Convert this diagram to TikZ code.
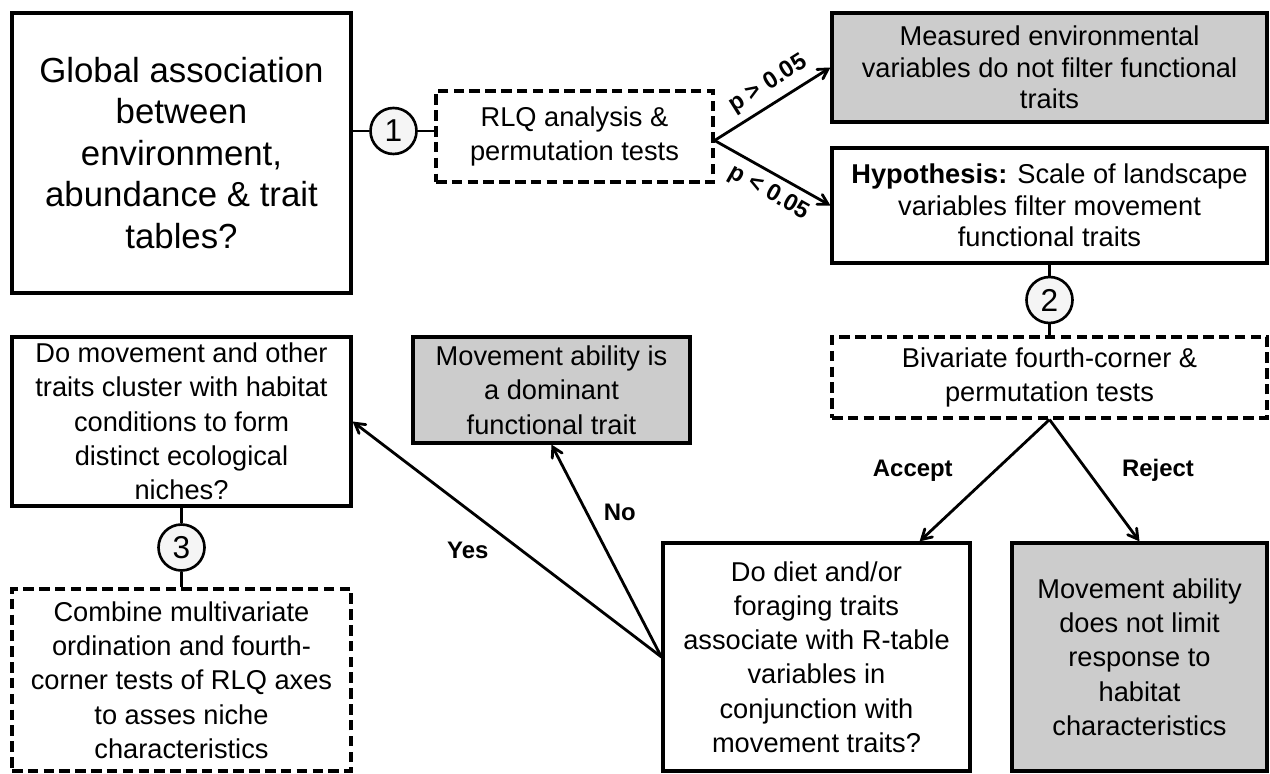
\documentclass[tikz,border=0pt]{standalone}
\usepackage{fontspec}
\setmainfont{Liberation Sans}
\usepackage{tikz}
\usetikzlibrary{shapes,arrows,calc,positioning}
\tikzstyle{box} = [draw, line width=1.8pt, align=center, inner sep=2pt, font=\fontsize{15.5}{19.5}\selectfont]
\tikzstyle{result} = [box, fill=gray!40]
\tikzstyle{test} = [box, dash pattern=on 6pt off 3pt]
\tikzstyle{num} = [draw, circle, line width=1.5pt, fill=gray!8, minimum size=0.92cm, inner sep=0pt, font=\fontsize{18}{18}\selectfont]
\tikzstyle{arrow} = [line width=1.6pt, ->, >=angle 60]
\tikzstyle{link} = [line width=1.6pt]
\tikzstyle{lbl} = [font=\bfseries\fontsize{13.6}{16}\selectfont]
\tikzstyle{plbl} = [font=\bfseries\fontsize{13.5}{15}\selectfont, sloped, inner sep=4pt]

\begin{document}
\begin{tikzpicture}
\useasboundingbox (0,0) rectangle (25.4,-15.48);

% first question
\node[box, minimum width=6.78cm, minimum height=5.6cm, font=\fontsize{19.8}{23.6}\selectfont] (glob) at (3.63,-3.06)
  {Global association\\between\\environment,\\abundance \& trait\\tables?};
\node[num] (c1) at (7.87,-2.62) {1};
\node[test, minimum width=5.54cm, minimum height=1.82cm] (rlq) at (11.49,-2.73)
  {RLQ analysis \&\\permutation tests};
\node[result, minimum width=8.7cm, minimum height=2.18cm, font=\fontsize{15.5}{18}\selectfont] (meas) at (20.99,-1.35)
  {Measured environmental\\variables do not filter functional\\traits};
\node[box, minimum width=8.7cm, minimum height=2.3cm, font=\fontsize{15.5}{18}\selectfont] (hypo) at (20.99,-4.11)
  {\textbf{Hypothesis:} Scale of landscape\\variables filter movement\\functional traits};

% second question
\node[num] (c2) at (20.99,-6.0) {2};
\node[test, minimum width=8.7cm, minimum height=1.62cm] (biv) at (20.99,-7.55)
  {Bivariate fourth-corner \&\\permutation tests};
\node[box, minimum width=6.14cm, minimum height=4.56cm] (diet) at (16.33,-13.14)
  {Do diet and/or\\foraging traits\\associate with R-table\\variables in\\conjunction with\\movement traits?};
\node[result, minimum width=5.1cm, minimum height=4.56cm] (nolim) at (22.79,-13.14)
  {Movement ability\\does not limit\\response to\\habitat\\characteristics};
\node[result, minimum width=5.54cm, minimum height=2.12cm] (dom) at (11.03,-7.8)
  {Movement ability is\\a dominant\\functional trait};

% third question
\node[box, minimum width=6.78cm, minimum height=3.38cm] (move) at (3.63,-8.43)
  {Do movement and other\\traits cluster with habitat\\conditions to form\\distinct ecological\\niches?};
\node[num] (c3) at (3.63,-10.95) {3};
\node[test, minimum width=6.78cm, minimum height=3.64cm] (comb) at (3.63,-13.6)
  {Combine multivariate\\ordination and fourth-\\corner tests of RLQ axes\\to asses niche\\characteristics};

\draw[link] (c1 -| glob.east) -- (c1);
\draw[link] (c1) -- (c1 -| rlq.west);
\draw[arrow] ($(rlq.east)+(0,-0.08)$) -- (meas.west) node[plbl, pos=0.55, above] {p > 0.05};
\draw[arrow] ($(rlq.east)+(0,-0.08)$) -- (hypo.west) node[plbl, pos=0.55, below] {p < 0.05};
\draw[link] (hypo.south) -- (c2);
\draw[link] (c2) -- (biv.north);
\draw[arrow] (biv.south) -- ($(diet.north east)+(-1.04,0)$) node[lbl, pos=0.42, left=0.7cm] {Accept};
\draw[arrow] (biv.south) -- (nolim.north) node[lbl, pos=0.42, right=0.55cm] {Reject};
\draw[arrow] (diet.west) -- (dom.south) node[lbl, pos=0.68, right=0.2cm] {No};
\draw[arrow] (diet.west) -- (move.east) node[lbl, pos=0.627, below=0.5cm] {Yes};
\draw[link] (move.south) -- (c3);
\draw[link] (c3) -- (comb.north);
\end{tikzpicture}
\end{document}
